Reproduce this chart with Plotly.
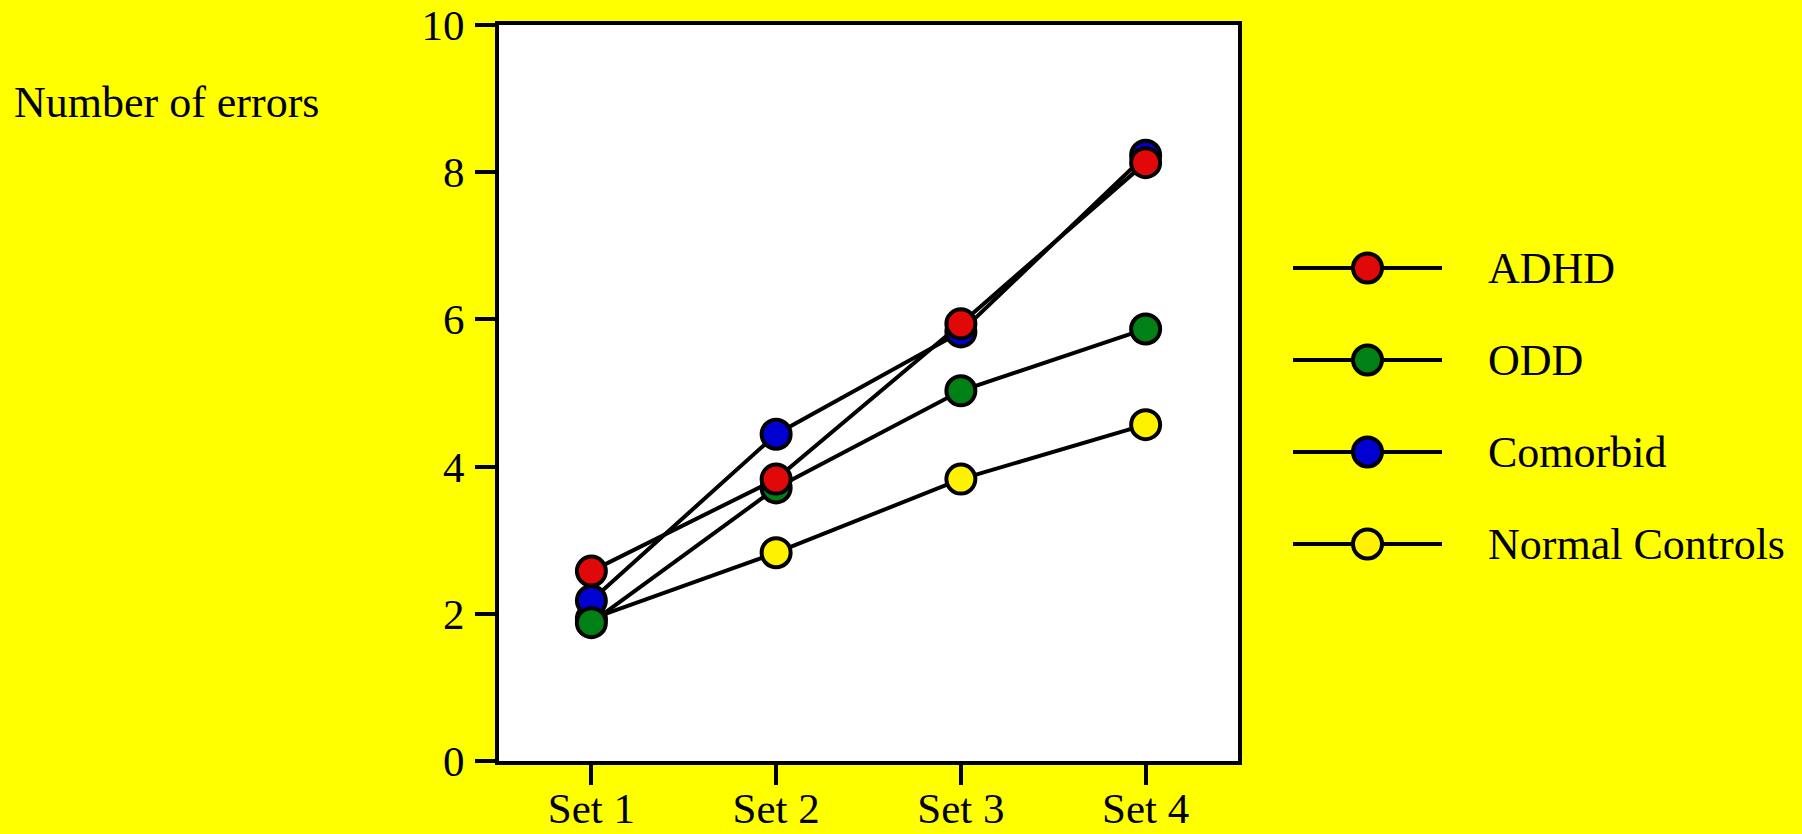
import plotly.graph_objects as go

W, H = 1802, 834

sets = ["Set 1", "Set 2", "Set 3", "Set 4"]
groups = ["ADHD", "ODD", "Comorbid", "Normal Controls"]
adhd = [2.58, 3.83, 5.94, 8.13]
odd = [1.88, 3.71, 5.03, 5.87]
comorbid = [2.18, 4.44, 5.83, 8.23]
controls = [1.93, 2.83, 3.83, 4.57]
y_ticks = [0, 2, 4, 6, 8, 10]

colors = {"ADHD": "#E00808", "ODD": "#008015", "Comorbid": "#0000D0", "Normal Controls": "#FFF200"}
values = {"ADHD": adhd, "ODD": odd, "Comorbid": comorbid, "Normal Controls": controls}
draw_order = ["Normal Controls", "Comorbid", "ODD", "ADHD"]

FONT = "Liberation Serif, Times New Roman, serif"
YELLOW = "#FFFF00"
LW = 4
xs = list(range(1, len(sets) + 1))

fig = go.Figure()
# lines first
for g in draw_order:
    fig.add_trace(go.Scatter(x=xs, y=values[g], mode="lines",
                             line=dict(color="black", width=LW),
                             showlegend=False, hoverinfo="skip"))
# markers on top
for g in draw_order:
    fig.add_trace(go.Scatter(x=xs, y=values[g], mode="markers", name=g,
                             marker=dict(size=29, color=colors[g],
                                         line=dict(color="black", width=LW)),
                             showlegend=False))

# custom legend on a second pair of axes
for i, g in enumerate(groups):
    fig.add_trace(go.Scatter(x=[0, 1, 2], y=[i, i, i], mode="lines+markers",
                             xaxis="x2", yaxis="y2", showlegend=False, hoverinfo="skip",
                             line=dict(color="black", width=LW),
                             marker=dict(size=29, color=colors[g], opacity=[0, 1, 0],
                                         line=dict(color="black", width=LW))))
    fig.add_annotation(x=1486 / W, xref="paper", y=i, yref="y2", text=g,
                       showarrow=False, xanchor="left", yanchor="middle",
                       font=dict(family=FONT, size=44, color="black"))

fig.add_annotation(x=12 / W, xref="paper", y=1 - 102 / H, yref="paper",
                   text="Number of errors", showarrow=False,
                   xanchor="left", yanchor="middle",
                   font=dict(family=FONT, size=44, color="black"))

# white plotting area for the main chart only
fig.add_shape(type="rect", xref="x domain", yref="y domain", x0=0, x1=1, y0=0, y1=1,
              fillcolor="white", line=dict(width=0), layer="below")

axis_common = dict(showgrid=False, zeroline=False, showline=True, linecolor="black",
                   linewidth=4, mirror=True, ticks="outside", ticklen=20, tickwidth=3.5,
                   tickcolor="black", automargin=False,
                   tickfont=dict(family=FONT, size=43, color="black"))

fig.update_layout(
    width=W, height=H,
    margin=dict(l=0, r=0, t=0, b=0, pad=0, autoexpand=False),
    paper_bgcolor=YELLOW, plot_bgcolor=YELLOW,
    xaxis=dict(domain=[499 / W, 1238 / W], range=[0.5, 4.5],
               tickvals=xs, ticktext=sets, ticklabelstandoff=-14, **axis_common),
    yaxis=dict(domain=[1 - 761 / H, 1 - 25 / H], range=[0, 10],
               tickvals=y_ticks, ticklabelstandoff=2, **axis_common),
    xaxis2=dict(domain=[1293 / W, 1442 / W], range=[0, 2], visible=False, anchor="y2"),
    yaxis2=dict(domain=[1 - 590 / H, 1 - 222 / H], range=[3.5, -0.5], visible=False, anchor="x2"),
    showlegend=False,
)

fig.write_html("out.html", config={"displayModeBar": False},
               post_script="document.body.style.margin='0';document.body.style.background='#FFFF00';"
                           "document.documentElement.style.background='#FFFF00';")
